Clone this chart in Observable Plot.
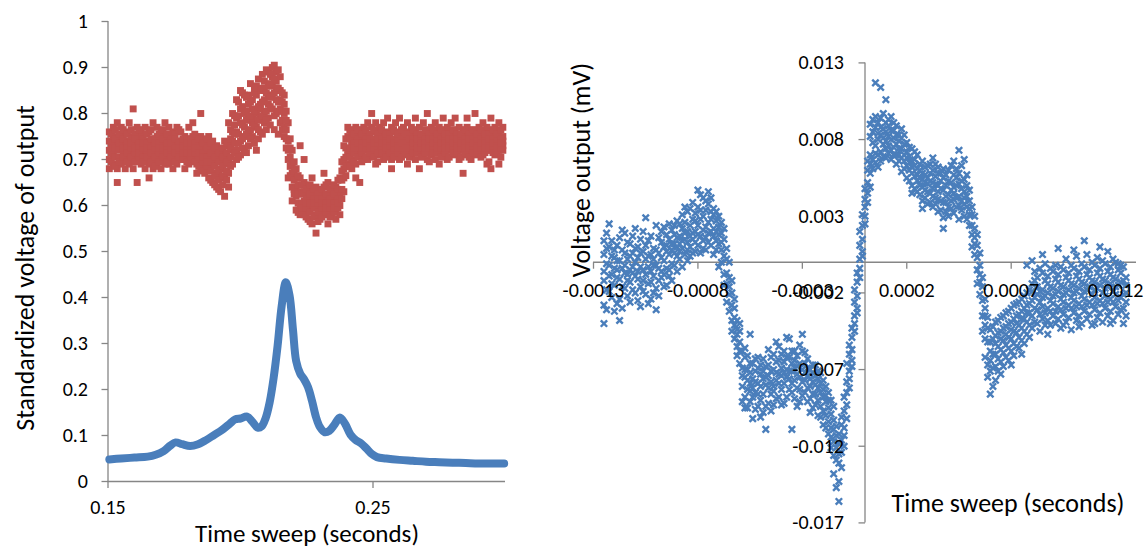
<!DOCTYPE html>
<html><head><meta charset="utf-8">
<script src="https://cdn.jsdelivr.net/npm/d3@7"></script>
<script src="https://cdn.jsdelivr.net/npm/@observablehq/plot@0.6"></script>
<style>
html,body{margin:0;padding:0;background:#fff;}
body{width:1146px;height:548px;overflow:hidden;position:relative;font-family:Carlito,Calibri,Lato,sans-serif;}
.pane{position:absolute;top:0;}
.t{position:absolute;white-space:nowrap;font-size:26px;color:#000;line-height:1;transform:translate(-50%,-50%);}
.t.rot{transform:translate(-50%,-50%) rotate(-90deg);}
</style></head>
<body>
<div id="left" class="pane" style="left:0"></div>
<div id="right" class="pane" style="left:560px"></div>
<div class="t rot" style="left:25px;top:268px">Standardized voltage of output</div>
<div class="t" style="left:307px;top:533px;font-size:25px">Time sweep (seconds)</div>
<div class="t rot" style="left:581px;top:170px">Voltage output (mV)</div>
<div class="t" style="left:1008px;top:503px">Time sweep (seconds)</div>
<script>
// ---------- Left chart data ----------
const leftXDomain = [0.15, 0.3];
const leftYDomain = [0, 1];
const leftXTicks = [0.15, 0.25];
const leftXTickLabels = ["0.15", "0.25"];
const leftYTicks = [0, 0.1, 0.2, 0.3, 0.4, 0.5, 0.6, 0.7, 0.8, 0.9, 1];
const leftYTickLabels = ["0", "0.1", "0.2", "0.3", "0.4", "0.5", "0.6", "0.7", "0.8", "0.9", "1"];

// blue series (dense smooth trace): [time, value]
const blueCurve = [
  [0.1505,0.048],[0.155,0.050],[0.160,0.052],[0.165,0.054],[0.168,0.058],[0.171,0.066],
  [0.1735,0.078],[0.1755,0.085],[0.178,0.081],[0.181,0.077],[0.184,0.081],[0.187,0.090],
  [0.190,0.101],[0.193,0.112],[0.196,0.126],[0.198,0.135],[0.200,0.137],[0.2025,0.141],
  [0.2045,0.130],[0.2065,0.117],[0.208,0.120],[0.2095,0.138],[0.211,0.172],[0.2125,0.225],
  [0.214,0.295],[0.2155,0.380],[0.2171,0.433],[0.2185,0.405],[0.2198,0.330],[0.221,0.262],
  [0.2225,0.235],[0.224,0.222],[0.2255,0.205],[0.227,0.175],[0.2285,0.140],[0.230,0.118],
  [0.2318,0.107],[0.2335,0.110],[0.2355,0.124],[0.2375,0.139],[0.2395,0.125],[0.2415,0.102],
  [0.2435,0.090],[0.2455,0.083],[0.2475,0.072],[0.2495,0.060],[0.2515,0.053],[0.255,0.050],
  [0.260,0.047],[0.265,0.045],[0.270,0.043],[0.275,0.042],[0.280,0.041],[0.285,0.040],
  [0.290,0.039],[0.2995,0.039]
];

// red series (noisy scatter), first half of samples: [time, values...]
const redRows = [
  [0.1505,.74,.70,.76,.68,.72],[0.1520,.73,.69,.77,.71,.75],[0.1535,.72,.78,.68,.74,.65],
  [0.1550,.70,.75,.73,.77,.69],[0.1565,.76,.71,.68,.73,.74],[0.1580,.72,.74,.70,.78,.69],
  [0.1595,.73,.81,.71,.68,.75],[0.1610,.70,.74,.77,.65,.72],[0.1625,.75,.71,.69,.73,.76],
  [0.1640,.72,.68,.74,.70,.77],[0.1655,.73,.76,.71,.66,.69],[0.1670,.74,.70,.72,.78,.68],
  [0.1685,.71,.75,.73,.69,.77],[0.1700,.76,.72,.70,.74,.68],[0.1715,.73,.69,.75,.71,.78],
  [0.1730,.70,.74,.72,.77,.69],[0.1745,.75,.71,.73,.68,.76],[0.1760,.72,.70,.74,.69,.77],
  [0.1775,.73,.76,.71,.70,.74],[0.1790,.72,.68,.75,.73,.70],
  [0.1805,.71,.74,.69,.77,.72],[0.1820,.73,.70,.75,.72,.78],[0.1835,.72,.69,.74,.71,.67],
  [0.1850,.70,.80,.73,.68,.75],[0.1865,.71,.67,.74,.69,.72],[0.1880,.73,.66,.70,.75,.68],
  [0.1895,.69,.72,.65,.74,.71],[0.1910,.70,.67,.73,.64,.71],[0.1925,.68,.72,.63,.70,.66],
  [0.1940,.69,.62,.74,.66,.71],[0.1955,.67,.73,.64,.70,.78],[0.1970,.72,.76,.69,.80,.74],
  [0.1985,.76,.79,.72,.83,.70],[0.2000,.74,.78,.81,.85,.71],[0.2015,.77,.80,.75,.84,.72],
  [0.2030,.79,.76,.82,.73,.84],[0.2045,.78,.81,.75,.83,.79],[0.2060,.80,.77,.84,.72,.86],
  [0.2075,.82,.79,.85,.76,.81],[0.2090,.83,.80,.87,.78,.85],[0.2105,.86,.82,.89,.79,.84],
  [0.2120,.88,.84,.90,.81,.86],[0.2135,.87,.83,.89,.85,.80],[0.2150,.85,.81,.88,.78,.83],
  [0.2165,.82,.77,.75,.84,.80],[0.2180,.74,.70,.78,.66,.72],[0.2195,.69,.64,.72,.67,.61],
  [0.2210,.66,.62,.68,.59,.64],
  [0.2225,.63,.60,.66,.58,.73],[0.2240,.61,.65,.58,.63,.70],[0.2255,.62,.59,.64,.57,.61],
  [0.2270,.60,.63,.56,.61,.66],[0.2285,.58,.62,.60,.54,.64],[0.2300,.61,.57,.63,.59,.62],
  [0.2315,.60,.64,.58,.62,.67],[0.2330,.62,.59,.61,.56,.65],[0.2345,.60,.63,.58,.62,.61],
  [0.2360,.59,.64,.61,.57,.63],[0.2375,.63,.60,.66,.62,.58],
  [0.2390,.70,.66,.73,.63,.68],[0.2405,.72,.69,.75,.71,.77],[0.2420,.73,.70,.76,.68,.74],
  [0.2435,.72,.75,.69,.66,.77],[0.2450,.74,.71,.76,.73,.65],[0.2465,.73,.77,.70,.75,.72],
  [0.2480,.75,.72,.78,.70,.74],[0.2495,.73,.77,.71,.80,.74],[0.2510,.76,.72,.74,.69,.78],
  [0.2525,.74,.71,.77,.73,.75],[0.2540,.72,.78,.70,.75,.73],[0.2555,.75,.73,.79,.71,.76],
  [0.2570,.74,.70,.77,.72,.68],[0.2585,.76,.73,.71,.78,.74],[0.2600,.73,.79,.75,.70,.72],
  [0.2615,.75,.71,.74,.77,.73],[0.2630,.72,.76,.69,.74,.78],[0.2645,.74,.72,.77,.75,.71],
  [0.2660,.76,.73,.70,.79,.74],[0.2675,.73,.75,.72,.68,.77],[0.2690,.75,.78,.73,.71,.74],
  [0.2705,.72,.74,.80,.76,.70],[0.2720,.74,.71,.75,.73,.77],[0.2735,.76,.73,.70,.78,.74],
  [0.2750,.73,.77,.72,.75,.69],[0.2765,.75,.71,.74,.79,.73],[0.2780,.72,.76,.73,.70,.77],
  [0.2795,.74,.78,.72,.75,.73],[0.2810,.76,.73,.79,.71,.74],[0.2825,.73,.75,.70,.77,.72],
  [0.2840,.75,.72,.76,.73,.67],[0.2855,.74,.77,.71,.75,.79],[0.2870,.72,.75,.73,.70,.76],
  [0.2885,.76,.73,.80,.74,.71],[0.2900,.73,.77,.72,.75,.74],[0.2915,.75,.71,.74,.78,.73],
  [0.2930,.72,.76,.73,.69,.77],[0.2945,.74,.79,.75,.72,.68],[0.2960,.76,.73,.71,.74,.77],
  [0.2975,.73,.75,.78,.72,.69],[0.2990,.75,.72,.74,.77,.73]
];
// red series, interleaved samples
const redRowsB = [
  [0.15125,.715,.735,.755,.695,.725],[0.15275,.745,.705,.725,.765,.685],[0.15425,.725,.755,.705,.735,.695],
  [0.15575,.715,.745,.765,.725,.705],[0.15725,.735,.695,.725,.755,.715],[0.15875,.725,.705,.745,.765,.735],
  [0.16025,.715,.755,.695,.725,.745],[0.16175,.735,.705,.725,.765,.715],[0.16325,.725,.745,.705,.695,.735],
  [0.16475,.715,.735,.755,.725,.705],[0.16625,.745,.725,.695,.715,.765],[0.16775,.725,.705,.745,.735,.685],
  [0.16925,.735,.715,.755,.725,.695],[0.17075,.715,.745,.725,.705,.765],[0.17225,.725,.735,.695,.755,.715],
  [0.17375,.745,.715,.725,.705,.735],[0.17525,.725,.755,.715,.695,.745],[0.17675,.715,.735,.725,.765,.705],
  [0.17825,.735,.725,.705,.745,.715],[0.17975,.725,.695,.745,.715,.735],
  [0.18125,.725,.705,.745,.715,.735],[0.18275,.715,.735,.695,.755,.725],[0.18425,.705,.725,.685,.745,.715],
  [0.18575,.715,.695,.735,.705,.675],[0.18725,.705,.725,.685,.695,.745],[0.18875,.695,.715,.675,.735,.655],
  [0.19025,.685,.705,.665,.725,.645],[0.19175,.695,.675,.715,.655,.635],[0.19325,.685,.705,.665,.645,.725],
  [0.19475,.675,.695,.715,.655,.735],[0.19625,.705,.725,.685,.745,.765],[0.19775,.735,.755,.715,.775,.795],
  [0.19925,.705,.755,.795,.825,.735],[0.20075,.725,.745,.815,.845,.775],[0.20225,.715,.785,.805,.835,.755],
  [0.20375,.745,.765,.825,.865,.795],[0.20525,.735,.805,.845,.855,.775],[0.20675,.765,.785,.815,.875,.745],
  [0.20825,.755,.825,.855,.885,.795],[0.20975,.785,.805,.845,.895,.765],[0.21125,.775,.835,.865,.885,.815],
  [0.21275,.795,.845,.875,.905,.765],[0.21425,.805,.825,.855,.895,.755],[0.21575,.805,.825,.785,.845,.765],
  [0.21725,.765,.785,.745,.805,.725],[0.21875,.705,.725,.685,.745,.665],[0.22025,.655,.675,.635,.695,.625],
  [0.22175,.625,.645,.605,.665,.585],
  [0.22325,.605,.625,.585,.645,.595],[0.22475,.615,.595,.635,.575,.605],[0.22625,.605,.625,.585,.645,.565],
  [0.22775,.595,.615,.575,.635,.605],[0.22925,.605,.585,.625,.565,.615],[0.23075,.615,.595,.635,.575,.605],
  [0.23225,.605,.625,.585,.645,.595],[0.23375,.595,.615,.575,.635,.605],[0.23525,.605,.585,.625,.645,.595],
  [0.23675,.615,.635,.595,.655,.605],[0.23825,.655,.635,.675,.615,.695],
  [0.23975,.705,.685,.725,.665,.745],[0.24125,.725,.705,.745,.685,.765],[0.24275,.735,.715,.755,.695,.725],
  [0.24425,.725,.745,.705,.765,.735],[0.24575,.735,.715,.755,.725,.695],[0.24725,.745,.725,.765,.705,.735],
  [0.24875,.735,.755,.715,.745,.725],[0.25025,.745,.725,.765,.705,.735],[0.25175,.735,.715,.755,.745,.695],
  [0.25325,.725,.745,.735,.765,.715],[0.25475,.745,.735,.705,.755,.725],[0.25625,.735,.755,.725,.715,.745],
  [0.25775,.745,.725,.765,.735,.705],[0.25925,.735,.715,.745,.755,.725],[0.26075,.725,.745,.735,.705,.765],
  [0.26225,.745,.735,.715,.755,.725],[0.26375,.735,.755,.725,.745,.705],[0.26525,.745,.725,.735,.765,.715],
  [0.26675,.735,.715,.755,.725,.745],[0.26825,.725,.745,.735,.705,.755],[0.26975,.745,.735,.715,.765,.725],
  [0.27125,.735,.755,.725,.745,.695],[0.27275,.745,.725,.765,.735,.715],[0.27425,.735,.715,.745,.755,.725],
  [0.27575,.725,.745,.735,.705,.765],[0.27725,.745,.735,.715,.755,.725],[0.27875,.735,.755,.725,.745,.705],
  [0.28025,.745,.725,.735,.765,.715],[0.28175,.735,.715,.755,.725,.745],[0.28325,.725,.745,.735,.705,.755],
  [0.28475,.745,.735,.715,.765,.725],[0.28625,.735,.755,.725,.745,.705],[0.28775,.745,.725,.765,.735,.715],
  [0.28925,.735,.715,.745,.755,.725],[0.29075,.725,.745,.735,.705,.765],[0.29225,.745,.735,.715,.755,.725],
  [0.29375,.735,.755,.725,.745,.695],[0.29525,.745,.725,.765,.735,.715],[0.29675,.735,.715,.745,.755,.725],
  [0.29825,.725,.745,.735,.705,.765]
];

// ---------- Right chart data ----------
const rightXDomain = [-0.0013, 0.0013];
const rightYDomain = [-0.017, 0.013];
const rightXTicks = [-0.0013, -0.0008, -0.0003, 0.0002, 0.0007, 0.0012];
const rightXTickLabels = ["-0.0013", "-0.0008", "-0.0003", "0.0002", "0.0007", "0.0012"];
const rightYTicks = [0.013, 0.008, 0.003, -0.002, -0.007, -0.012, -0.017];
const rightYTickLabels = ["0.013", "0.008", "0.003", "-0.002", "-0.007", "-0.012", "-0.017"];

// [time, values...]
const rightRows = [
  [-0.00125,.0005,-.0012,-.0028,.0014,-.0006,-.0040],
  [-0.001225,-.0002,.0010,-.0019,.0025,-.0009],
  [-0.0012,.0003,-.0015,-.0032,.0008,-.0004],
  [-0.001175,-.0011,.0016,-.0024,.0001,-.0038],
  [-0.00115,.0006,-.0007,.0019,-.0017,-.0002],
  [-0.001125,-.0013,.0004,-.0026,.0012,-.0005],
  [-0.0011,.0009,-.0009,.0022,-.0020,.0000],
  [-0.001075,-.0003,.0015,-.0016,.0006,-.0029],
  [-0.00105,.0011,-.0008,.0029,-.0021,.0002],
  [-0.001025,-.0006,.0017,-.0013,.0005,-.0024],
  [-0.001,.0008,-.0002,.0024,-.0017,-.0031],
  [-0.000975,.0003,.0013,-.0010,.0020,-.0006],
  [-0.00095,-.0004,.0018,.0007,-.0015,.0011],
  [-0.000925,.0012,-.0001,.0021,.0008,-.0012],
  [-0.0009,.0016,.0004,.0027,-.0006,.0010],
  [-0.000875,.0009,.0022,.0014,.0031,-.0003],
  [-0.00085,.0020,.0008,.0033,.0013,.0001],
  [-0.000825,.0015,.0028,.0006,.0039,.0019],
  [-0.0008,.0024,.0011,.0036,.0018,.0047],
  [-0.000775,.0021,.0030,.0009,.0042,.0014],
  [-0.00075,.0026,.0013,.0038,.0019,.0046],
  [-0.000725,.0017,.0031,.0022,.0005,.0035],
  [-0.0007,.0023,.0012,.0030,-.0003,.0018],
  [-0.000675,.0015,.0004,-.0008,.0022,-.0015],
  [-0.00065,-.0010,-.0021,.0000,-.0032,-.0016],
  [-0.000625,-.0030,-.0041,-.0024,-.0050,-.0036],
  [-0.0006,-.0045,-.0058,-.0052,-.0066,-.0040],
  [-0.000575,-.0062,-.0075,-.0088,-.0070,-.0095,-.0056],
  [-0.00055,-.0079,-.0066,-.0091,-.0084,-.0072,-.0047],
  [-0.000525,-.0085,-.0071,-.0096,-.0063,-.0078],
  [-0.0005,-.0073,-.0090,-.0081,-.0101,-.0067],
  [-0.000475,-.0080,-.0068,-.0094,-.0075,-.0109],
  [-0.00045,-.0071,-.0086,-.0062,-.0078,-.0097],
  [-0.000425,-.0077,-.0065,-.0089,-.0072,-.0052],
  [-0.0004,-.0069,-.0083,-.0074,-.0060,-.0093],
  [-0.000375,-.0075,-.0062,-.0088,-.0070,-.0049],
  [-0.00035,-.0066,-.0079,-.0071,-.0085,-.0058,-.0109],
  [-0.000325,-.0073,-.0061,-.0082,-.0068,-.0094],
  [-0.0003,-.0070,-.0058,-.0078,-.0087,-.0047],
  [-0.000275,-.0074,-.0063,-.0082,-.0069,-.0091],
  [-0.00025,-.0078,-.0067,-.0086,-.0072,-.0095],
  [-0.000225,-.0082,-.0071,-.0090,-.0076,-.0100],
  [-0.0002,-.0088,-.0077,-.0097,-.0083,-.0106],
  [-0.000175,-.0095,-.0085,-.0104,-.0112,-.0090],
  [-0.00015,-.0103,-.0117,-.0094,-.0126,-.0109,-.0138],
  [-0.000125,-.0112,-.0125,-.0143,-.0118,-.0131,-.0156],
  [-0.0001,-.0120,-.0108,-.0097,-.0113,-.0088],
  [-0.000075,-.0082,-.0071,-.0060,-.0076,-.0054],
  [-0.00005,-.0045,-.0035,-.0026,-.0040,-.0018],
  [-0.000025,-.0010,.0002,.0011,-.0004,.0020],
  [0,.0030,.0041,.0048,.0036,.0025],
  [0.000025,.0058,.0070,.0082,.0064,.0090,.0049],
  [0.00005,.0076,.0088,.0065,.0117,.0095,.0071],
  [0.000075,.0083,.0072,.0094,.0066,.0088,.0114],
  [0.0001,.0079,.0091,.0068,.0085,.0074,.0106],
  [0.000125,.0086,.0073,.0095,.0080,.0067],
  [0.00015,.0077,.0089,.0070,.0083,.0064],
  [0.000175,.0081,.0068,.0074,.0059,.0087],
  [0.0002,.0072,.0063,.0078,.0055,.0068],
  [0.000225,.0066,.0058,.0074,.0050,.0062,.0045],
  [0.00025,.0061,.0053,.0070,.0046,.0057],
  [0.000275,.0058,.0049,.0066,.0040,.0054,.0035],
  [0.0003,.0055,.0046,.0063,.0038,.0051],
  [0.000325,.0052,.0043,.0060,.0036,.0048,.0068],
  [0.00035,.0050,.0041,.0058,.0033,.0046,.0062],
  [0.000375,.0047,.0039,.0055,.0029,.0061,.0022],
  [0.0004,.0053,.0044,.0036,.0060,.0030],
  [0.000425,.0049,.0041,.0057,.0032,.0045,.0066],
  [0.00045,.0051,.0043,.0037,.0058,.0028,.0073],
  [0.000475,.0046,.0038,.0054,.0030,.0042,.0067],
  [0.0005,.0040,.0031,.0047,.0024,.0035],
  [0.000525,.0022,.0012,.0030,.0005,.0016],
  [0.00055,-.0002,-.0013,.0006,-.0021,-.0008],
  [0.000575,-.0030,-.0041,-.0024,-.0050,-.0035,-.0062],
  [0.0006,-.0052,-.0064,-.0044,-.0071,-.0058,-.0086],
  [0.000625,-.0048,-.0060,-.0039,-.0068,-.0053,-.0077],
  [0.00065,-.0045,-.0057,-.0036,-.0065,-.0050,-.0073],
  [0.000675,-.0042,-.0054,-.0033,-.0062,-.0047],
  [0.0007,-.0039,-.0050,-.0030,-.0058,-.0044,-.0067],
  [0.000725,-.0035,-.0046,-.0027,-.0055,-.0040],
  [0.00075,-.0032,-.0043,-.0024,-.0051,-.0037,-.0060],
  [0.000775,-.0028,-.0039,-.0020,-.0047,-.0033,-.0002],
  [0.0008,-.0025,-.0035,-.0014,-.0043,-.0019,.0001],
  [0.000825,-.0021,-.0031,-.0010,-.0040,-.0016],
  [0.00085,-.0018,-.0029,-.0007,-.0037,-.0023,.0005],
  [0.000875,-.0020,-.0030,-.0009,-.0038,-.0014,-.0047],
  [0.0009,-.0017,-.0027,-.0006,-.0035,-.0022],
  [0.000925,-.0019,-.0029,-.0008,-.0037,-.0013,.0009],
  [0.00095,-.0016,-.0026,-.0005,-.0034,-.0021,-.0041],
  [0.000975,-.0018,-.0028,-.0007,-.0036,-.0012],
  [0.001,-.0015,-.0025,-.0004,-.0033,-.0020,.0008],
  [0.001025,-.0017,-.0027,-.0006,-.0035,-.0011,-.0042],
  [0.00105,-.0014,-.0024,-.0003,-.0032,-.0019,.0014],
  [0.001075,-.0016,-.0026,-.0005,-.0034,-.0010],
  [0.0011,-.0013,-.0023,-.0002,-.0031,-.0018,-.0040],
  [0.001125,-.0015,-.0025,-.0004,-.0033,-.0009,.0010],
  [0.00115,-.0012,-.0022,-.0001,-.0030,-.0017],
  [0.001175,-.0014,-.0024,-.0003,-.0032,-.0008,-.0040],
  [0.0012,-.0011,-.0021,.0000,-.0029,-.0016],
  [0.001225,-.0013,-.0023,-.0002,-.0031,-.0007],
  [0.00125,-.0010,-.0020,-.0035,-.0026,-.0015]
];
// interleaved samples
const rightRowsB = [
  [-0.0012375,-.0001,.0009,-.0018,-.0031,.0019],[-0.0012125,-.0008,.0004,-.0023,.0014,-.0014],
  [-0.0011875,.0001,-.0010,.0011,-.0027,-.0005],[-0.0011625,-.0004,.0008,-.0016,.0021,-.0030],
  [-0.0011375,.0002,-.0012,.0013,-.0022,-.0008],[-0.0011125,-.0007,.0006,-.0018,.0017,-.0003],
  [-0.0010875,.0003,-.0011,.0010,-.0025,-.0006],[-0.0010625,-.0005,.0007,-.0019,.0020,-.0012],
  [-0.0010375,.0004,-.0014,.0014,-.0003,-.0027],[-0.0010125,-.0002,.0009,-.0020,.0002,-.0009],
  [-0.0009875,.0006,-.0012,.0016,-.0004,-.0022],[-0.0009625,.0001,.0010,-.0008,.0023,-.0016],
  [-0.0009375,.0005,.0015,-.0005,.0025,-.0009],
  [-0.0009125,.0006,.0018,-.0002,.0024,.0012],[-0.0008875,.0012,.0002,.0025,.0017,.0007],
  [-0.0008625,.0015,.0005,.0026,.0019,.0036],[-0.0008375,.0010,.0024,.0017,.0035,.0004],
  [-0.0008125,.0020,.0013,.0032,.0007,.0027],[-0.0007875,.0017,.0028,.0006,.0034,.0044],
  [-0.0007625,.0023,.0016,.0034,.0008,.0040],[-0.0007375,.0028,.0020,.0011,.0033,.0042],
  [-0.0007125,.0020,.0027,.0008,.0014,.0033],[-0.0006875,.0019,.0008,.0026,.0000,.0013],
  [-0.0006625,.0002,-.0007,-.0014,.0009,-.0026],[-0.0006375,-.0020,-.0028,-.0012,-.0038,-.0045],
  [-0.0006125,-.0038,-.0047,-.0055,-.0044,-.0061],
  [-0.0005875,-.0058,-.0069,-.0081,-.0091,-.0074],[-0.0005625,-.0070,-.0083,-.0061,-.0095,-.0077],
  [-0.0005375,-.0076,-.0088,-.0066,-.0082,-.0102],[-0.0005125,-.0079,-.0069,-.0094,-.0086,-.0062],
  [-0.0004875,-.0076,-.0086,-.0063,-.0098,-.0071],[-0.0004625,-.0082,-.0067,-.0092,-.0074,-.0057],
  [-0.0004375,-.0070,-.0081,-.0093,-.0060,-.0084],[-0.0004125,-.0073,-.0064,-.0088,-.0079,-.0055],
  [-0.0003875,-.0065,-.0079,-.0092,-.0072,-.0058],[-0.0003625,-.0071,-.0062,-.0083,-.0076,-.0050],
  [-0.0003375,-.0069,-.0077,-.0058,-.0089,-.0064],[-0.0003125,-.0066,-.0075,-.0054,-.0083,-.0091],
  [-0.0002875,-.0072,-.0066,-.0077,-.0085,-.0059],[-0.0002625,-.0076,-.0070,-.0089,-.0081,-.0098],
  [-0.0002375,-.0080,-.0074,-.0093,-.0086,-.0067],[-0.0002125,-.0085,-.0079,-.0094,-.0101,-.0072],
  [-0.0001875,-.0091,-.0081,-.0100,-.0108,-.0087],[-0.0001625,-.0099,-.0108,-.0090,-.0121,-.0114],
  [-0.0001375,-.0107,-.0121,-.0129,-.0113,-.0147],[-0.0001125,-.0116,-.0106,-.0124,-.0134,-.0101],
  [-0.0000875,-.0102,-.0093,-.0085,-.0066,-.0078],[-0.0000625,-.0064,-.0057,-.0049,-.0068,-.0043],
  [-0.0000375,-.0030,-.0022,-.0013,-.0033,-.0007],[-0.0000125,.0007,.0015,.0024,.0004,.0031],
  [0.0000125,.0045,.0052,.0060,.0039,.0066],[0.0000375,.0067,.0078,.0085,.0061,.0093],
  [0.0000625,.0080,.0070,.0091,.0084,.0062],[0.0000875,.0077,.0087,.0069,.0097,.0081],
  [0.0001125,.0082,.0076,.0089,.0071,.0093],[0.0001375,.0081,.0075,.0086,.0070,.0091],
  [0.0001625,.0074,.0083,.0066,.0079,.0070],[0.0001875,.0070,.0077,.0061,.0066,.0083],
  [0.0002125,.0069,.0060,.0075,.0053,.0065],[0.0002375,.0063,.0056,.0072,.0048,.0067],
  [0.0002625,.0060,.0050,.0064,.0044,.0055],[0.0002875,.0057,.0047,.0062,.0042,.0052],
  [0.0003125,.0053,.0045,.0058,.0039,.0064],
  [0.0003375,.0051,.0042,.0056,.0038,.0064],[0.0003625,.0048,.0040,.0053,.0034,.0058],
  [0.0003875,.0050,.0043,.0057,.0033,.0039],[0.0004125,.0052,.0040,.0047,.0063,.0035],
  [0.0004375,.0050,.0042,.0055,.0036,.0061],[0.0004625,.0048,.0040,.0053,.0034,.0063],
  [0.0004875,.0043,.0036,.0050,.0028,.0057],
  [0.0005125,.0031,.0024,.0036,.0018,.0010],[0.0005375,.0011,.0003,.0018,-.0005,-.0014],
  [0.0005625,-.0016,-.0025,-.0010,-.0035,-.0045],
  [0.0005875,-.0043,-.0052,-.0036,-.0067,-.0075],[0.0006125,-.0050,-.0060,-.0042,-.0069,-.0081],
  [0.0006375,-.0046,-.0055,-.0038,-.0063,-.0071],[0.0006625,-.0043,-.0051,-.0035,-.0059,-.0068],
  [0.0006875,-.0040,-.0049,-.0032,-.0056,-.0064],[0.0007125,-.0037,-.0045,-.0028,-.0053,-.0061],
  [0.0007375,-.0034,-.0041,-.0026,-.0049,-.0056],[0.0007625,-.0030,-.0037,-.0022,-.0045,-.0053],
  [0.0007875,-.0027,-.0033,-.0018,-.0041,-.0049],
  [0.0008125,-.0023,-.0030,-.0012,-.0039,-.0006],[0.0008375,-.0019,-.0026,-.0004,-.0034,-.0045],
  [0.0008625,-.0022,-.0033,-.0012,-.0041,-.0001],[0.0008875,-.0016,-.0025,-.0004,-.0032,-.0041],
  [0.0009125,-.0021,-.0032,-.0011,-.0040,-.0002],[0.0009375,-.0015,-.0024,-.0003,-.0031,-.0043],
  [0.0009625,-.0020,-.0030,-.0010,-.0039,.0002],[0.0009875,-.0014,-.0023,-.0002,-.0030,-.0044],
  [0.0010125,-.0019,-.0029,-.0009,-.0038,.0004],[0.0010375,-.0013,-.0022,-.0001,-.0029,-.0040],
  [0.0010625,-.0018,-.0028,-.0008,-.0037,.0005],[0.0010875,-.0012,-.0021,.0000,-.0028,-.0041],
  [0.0011125,-.0017,-.0027,-.0007,-.0036,.0003],[0.0011375,-.0011,-.0020,.0001,-.0027,-.0039],
  [0.0011625,-.0016,-.0026,-.0006,-.0035,.0007],[0.0011875,-.0010,-.0019,.0002,-.0026,-.0038],
  [0.0012125,-.0015,-.0025,-.0005,-.0034,-.0001],[0.0012375,-.0012,-.0021,-.0003,-.0030,-.0040]
];

// ---------- Styling ----------
const FONT = "Carlito, Calibri, Lato, sans-serif";
const AXIS = "#868686";
const BLUE = "#4A7EBB";
const RED = "#C0504D";
const TICK_FS = 20;

const tickDown = {draw(ctx) { ctx.moveTo(0, 0); ctx.lineTo(0, 6.5); }};
const tickLeft = {draw(ctx) { ctx.moveTo(0, 0); ctx.lineTo(-6.5, 0); }};
const xMarker = {draw(ctx) { const a = 3.2; ctx.moveTo(-a, -a); ctx.lineTo(a, a); ctx.moveTo(a, -a); ctx.lineTo(-a, a); }};

const flatten = rows => rows.flatMap(([t, ...vs]) => vs.map(v => ({t, v})));
const redPts = flatten(redRows).concat(flatten(redRowsB));
const rightPts = flatten(rightRows).concat(flatten(rightRowsB));

// ---------- Left chart ----------
const left = Plot.plot({
  width: 540, height: 548,
  marginLeft: 107.5, marginRight: 35, marginTop: 21, marginBottom: 67,
  x: {domain: leftXDomain, axis: null},
  y: {domain: leftYDomain, axis: null},
  style: {fontFamily: FONT, background: "transparent", overflow: "visible"},
  marks: [
    Plot.ruleX([leftXDomain[0]], {y1: leftYDomain[0], y2: leftYDomain[1], stroke: AXIS, strokeWidth: 1.3}),
    Plot.ruleY([leftYDomain[0]], {x1: leftXDomain[0], x2: leftXDomain[1], stroke: AXIS, strokeWidth: 1.3}),
    Plot.dot(leftYTicks, {x: () => leftXDomain[0], y: d => d, symbol: tickLeft, fill: "none", stroke: AXIS, strokeWidth: 1.3}),
    Plot.dot(leftXTicks, {x: d => d, y: () => leftYDomain[0], symbol: tickDown, fill: "none", stroke: AXIS, strokeWidth: 1.3}),
    Plot.text(leftYTicks, {x: () => leftXDomain[0], y: d => d, text: (d, i) => leftYTickLabels[i], textAnchor: "end", dx: -20, fontSize: TICK_FS, fill: "#000"}),
    Plot.text(leftXTicks, {x: d => d, y: () => leftYDomain[0], text: (d, i) => leftXTickLabels[i], dy: 26, fontSize: TICK_FS, fill: "#000"}),
    Plot.line(blueCurve, {x: d => d[0], y: d => d[1], stroke: BLUE, strokeWidth: 8, curve: "catmull-rom", strokeLinecap: "round", strokeLinejoin: "round"}),
    Plot.dot(redPts, {x: "t", y: "v", symbol: "square", r: 3.9, fill: RED, stroke: "none"})
  ]
});
document.getElementById("left").append(left);

// ---------- Right chart ----------
const right = Plot.plot({
  width: 586, height: 548,
  marginLeft: 33, marginRight: 10, marginTop: 62.4, marginBottom: 25.6,
  x: {domain: rightXDomain, axis: null},
  y: {domain: rightYDomain, axis: null},
  style: {fontFamily: FONT, background: "transparent", overflow: "visible"},
  marks: [
    Plot.ruleX([0], {y1: rightYDomain[0], y2: rightYDomain[1], stroke: AXIS, strokeWidth: 1.3}),
    Plot.ruleY([0], {x1: rightXDomain[0], x2: rightXDomain[1], stroke: AXIS, strokeWidth: 1.3}),
    Plot.dot(rightYTicks, {x: () => 0, y: d => d, symbol: tickLeft, fill: "none", stroke: AXIS, strokeWidth: 1.3}),
    Plot.dot(rightXTicks, {x: d => d, y: () => 0, symbol: tickDown, fill: "none", stroke: AXIS, strokeWidth: 1.3}),
    Plot.dot(rightPts, {x: "t", y: "v", symbol: xMarker, fill: "none", stroke: BLUE, strokeWidth: 2.4}),
    Plot.text(rightYTicks, {x: () => 0, y: d => d, text: (d, i) => rightYTickLabels[i], textAnchor: "end", dx: -21, fontSize: TICK_FS, fill: "#000"}),
    Plot.text(rightXTicks, {x: d => d, y: () => 0, text: (d, i) => rightXTickLabels[i], dy: 28, fontSize: TICK_FS, fill: "#000"})
  ]
});
document.getElementById("right").append(right);
</script>
</body></html>
